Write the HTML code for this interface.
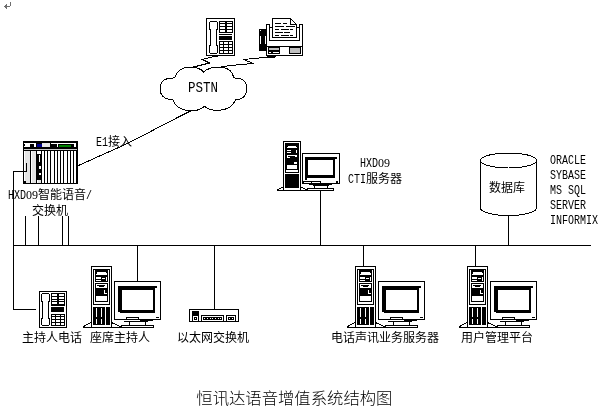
<!DOCTYPE html>
<html lang="zh"><head><meta charset="utf-8"><title>恒讯达语音增值系统结构图</title>
<style>
html,body{margin:0;padding:0;background:#fff;}
svg{display:block;}
.t{font-family:"Liberation Sans","Noto Sans CJK SC",sans-serif;fill:#000;}
.h{font-family:"Liberation Sans","Noto Sans CJK SC",sans-serif;font-weight:300;fill:#000;}
.l{font-family:"Liberation Mono",monospace;fill:#000;white-space:pre;}
.s{font-family:"Liberation Serif",serif;}
rect{shape-rendering:crispEdges;}
path{shape-rendering:crispEdges;}
</style></head><body>
<svg width="601" height="407" viewBox="0 0 601 407">
<rect x="0" y="0" width="601" height="407" fill="#fff"/>
<rect x="10" y="2" width="1" height="4" fill="#6e6e6e"/>
<rect x="4" y="6" width="6" height="1" fill="#6e6e6e"/>
<rect x="5" y="5" width="1" height="3" fill="#6e6e6e"/>
<rect x="6" y="4" width="1" height="5" fill="#6e6e6e"/>
<rect x="13" y="171" width="1" height="139" fill="#000"/>
<rect x="13" y="309" width="23" height="1" fill="#000"/>
<rect x="13" y="245" width="578" height="1" fill="#000"/>
<rect x="25" y="216" width="1" height="30" fill="#000"/>
<rect x="38" y="216" width="1" height="30" fill="#000"/>
<rect x="62" y="216" width="1" height="30" fill="#000"/>
<rect x="68" y="216" width="1" height="30" fill="#000"/>
<rect x="137" y="245" width="1" height="37" fill="#000"/>
<rect x="214" y="245" width="1" height="65" fill="#000"/>
<rect x="320" y="191" width="1" height="55" fill="#000"/>
<rect x="363" y="245" width="1" height="22" fill="#000"/>
<rect x="475" y="245" width="1" height="22" fill="#000"/>
<rect x="508" y="215" width="1" height="31" fill="#000"/>
<path d="M78.5,165.5 L98,156.7 L121,146.5 L141.5,136.3 L163,125 L178,117.3 L191.5,110.5" fill="none" stroke="#000" stroke-width="1"/>
<path d="M218,56.5 H214 L202.5,59.5 L209.5,63 L193.5,67" fill="none" stroke="#000" stroke-width="1"/>
<path d="M275,57.2 L267,57.2 L243.5,59.5 L253.5,63.5 L240,64.6 L221,66.6" fill="none" stroke="#000" stroke-width="1"/>
<path d="M174.5,78.0 Q177.6,67.5 189.6,67.0 Q199.8,67.0 203.4,72.1 Q209.0,67.0 219.1,67.0 Q232.0,67.5 233.8,78.0 Q246.7,77.6 246.7,88.3 Q246.7,99.4 235.7,99.8 Q231.1,110.4 217.3,110.4 Q209.0,110.4 204.4,106.2 Q199.8,110.8 191.5,110.8 Q176.7,110.4 173.0,99.8 Q160.1,99.4 160.1,88.3 Q160.1,77.6 174.5,78.0 Z" fill="#fff" stroke="#000" stroke-width="1"/>
<g transform="translate(206,18)">
<rect x="0" y="0" width="29" height="38" fill="#000"/>
<rect x="1" y="1" width="27" height="36" fill="#fff"/>
<rect x="4" y="3" width="7" height="1" fill="#000"/>
<rect x="3" y="4" width="1" height="7" fill="#000"/>
<rect x="11" y="4" width="1" height="7" fill="#000"/>
<rect x="3" y="11" width="2" height="1" fill="#000"/>
<rect x="10" y="11" width="2" height="1" fill="#000"/>
<rect x="4" y="12" width="1" height="15" fill="#000"/>
<rect x="10" y="12" width="1" height="15" fill="#000"/>
<rect x="3" y="27" width="2" height="1" fill="#000"/>
<rect x="10" y="27" width="2" height="1" fill="#000"/>
<rect x="3" y="28" width="1" height="7" fill="#000"/>
<rect x="11" y="28" width="1" height="7" fill="#000"/>
<rect x="4" y="35" width="7" height="1" fill="#000"/>
<rect x="13" y="3" width="14" height="12" fill="#000"/>
<rect x="14" y="4" width="5" height="1" fill="#fff"/>
<rect x="21" y="4" width="5" height="1" fill="#fff"/>
<rect x="14" y="6" width="5" height="2" fill="#fff"/>
<rect x="21" y="6" width="5" height="2" fill="#fff"/>
<rect x="14" y="9" width="5" height="2" fill="#fff"/>
<rect x="21" y="9" width="5" height="2" fill="#fff"/>
<rect x="14" y="12" width="5" height="2" fill="#fff"/>
<rect x="21" y="12" width="5" height="2" fill="#fff"/>
<rect x="13" y="16" width="13" height="1" fill="#000"/>
<rect x="13" y="18" width="13" height="4" fill="#000"/>
<rect x="13" y="23" width="14" height="13" fill="#000"/>
<rect x="14" y="24" width="3" height="2" fill="#fff"/>
<rect x="18" y="24" width="4" height="2" fill="#fff"/>
<rect x="23" y="24" width="3" height="2" fill="#fff"/>
<rect x="14" y="27" width="3" height="2" fill="#fff"/>
<rect x="18" y="27" width="4" height="2" fill="#fff"/>
<rect x="23" y="27" width="3" height="2" fill="#fff"/>
<rect x="14" y="30" width="3" height="2" fill="#fff"/>
<rect x="18" y="30" width="4" height="2" fill="#fff"/>
<rect x="23" y="30" width="3" height="2" fill="#fff"/>
<rect x="14" y="33" width="3" height="2" fill="#fff"/>
<rect x="18" y="33" width="4" height="2" fill="#fff"/>
<rect x="23" y="33" width="3" height="2" fill="#fff"/>
</g>
<rect x="259" y="29" width="8" height="22" fill="#000"/>
<rect x="260" y="30" width="1" height="1" fill="#fff"/>
<rect x="260" y="36" width="1" height="8" fill="#fff"/>
<rect x="265" y="36" width="1" height="8" fill="#fff"/>
<rect x="266" y="24" width="1" height="32" fill="#000"/>
<rect x="266" y="24" width="4" height="1" fill="#000"/>
<rect x="269" y="24" width="1" height="17" fill="#000"/>
<rect x="302" y="24" width="1" height="32" fill="#000"/>
<rect x="299" y="24" width="4" height="1" fill="#000"/>
<rect x="299" y="24" width="1" height="17" fill="#000"/>
<rect x="269" y="27" width="4" height="1" fill="#000"/>
<rect x="296" y="27" width="4" height="1" fill="#000"/>
<rect x="269" y="40" width="31" height="1" fill="#000"/>
<rect x="272" y="18" width="1" height="20" fill="#000"/>
<rect x="272" y="18" width="19" height="1" fill="#000"/>
<rect x="290" y="18" width="1" height="7" fill="#000"/>
<rect x="290" y="24" width="7" height="1" fill="#000"/>
<rect x="296" y="24" width="1" height="14" fill="#000"/>
<rect x="272" y="37" width="25" height="1" fill="#000"/>
<path d="M290.5,18.5 L296.5,24.5" fill="none" stroke="#000" stroke-width="1"/>
<rect x="275" y="23" width="6" height="1" fill="#000"/>
<rect x="283" y="23" width="4" height="1" fill="#000"/>
<rect x="275" y="26" width="9" height="1" fill="#000"/>
<rect x="286" y="26" width="9" height="1" fill="#000"/>
<rect x="275" y="29" width="4" height="1" fill="#000"/>
<rect x="281" y="29" width="8" height="1" fill="#000"/>
<rect x="290" y="29" width="3" height="1" fill="#000"/>
<rect x="275" y="32" width="8" height="1" fill="#000"/>
<rect x="284" y="32" width="6" height="1" fill="#000"/>
<rect x="275" y="35" width="4" height="1" fill="#000"/>
<rect x="281" y="35" width="8" height="1" fill="#000"/>
<rect x="290" y="35" width="3" height="1" fill="#000"/>
<rect x="266" y="46" width="37" height="1" fill="#000"/>
<rect x="266" y="55" width="37" height="1" fill="#000"/>
<rect x="268" y="47" width="12" height="7" fill="#000"/>
<rect x="269" y="48" width="10" height="2" fill="#c0c0c0"/>
<rect x="269" y="52" width="2" height="1" fill="#fff"/>
<rect x="273" y="52" width="6" height="1" fill="#fff"/>
<rect x="289" y="47" width="12" height="7" fill="#000"/>
<rect x="290" y="48" width="10" height="5" fill="#c0c0c0"/>
<rect x="267" y="56" width="9" height="1" fill="#000"/>
<rect x="23" y="141" width="55" height="43" fill="#000"/>
<rect x="24" y="142" width="53" height="41" fill="#fff"/>
<rect x="23" y="141" width="55" height="8" fill="#000"/>
<rect x="24" y="143" width="12" height="1" fill="#fff"/>
<rect x="25" y="144" width="5" height="3" fill="#fff"/>
<rect x="34" y="144" width="2" height="3" fill="#fff"/>
<rect x="24" y="146" width="1" height="1" fill="#fff"/>
<rect x="37" y="144" width="5" height="3" fill="#00008b"/>
<rect x="42" y="143" width="8" height="4" fill="#e6e6e6"/>
<rect x="51" y="143" width="25" height="1" fill="#fff"/>
<rect x="57" y="143" width="1" height="4" fill="#fff"/>
<rect x="74" y="143" width="2" height="4" fill="#fff"/>
<rect x="59" y="145" width="12" height="2" fill="#008000"/>
<rect x="24" y="149" width="53" height="1" fill="#c8c8c8"/>
<rect x="23" y="150" width="55" height="1" fill="#000"/>
<rect x="25" y="151" width="5" height="32" fill="#e4e4e4"/>
<rect x="30" y="151" width="1" height="32" fill="#000"/>
<rect x="32" y="151" width="4" height="32" fill="#e4e4e4"/>
<rect x="36" y="151" width="1" height="32" fill="#000"/>
<rect x="37" y="151" width="5" height="29" fill="#000"/>
<rect x="37" y="151" width="4" height="3" fill="#fff"/>
<rect x="37" y="154" width="5" height="1" fill="#000"/>
<rect x="39" y="155" width="1" height="7" fill="#fff"/>
<rect x="39" y="166" width="2" height="3" fill="#fff"/>
<rect x="39" y="173" width="2" height="2" fill="#fff"/>
<rect x="38" y="180" width="3" height="3" fill="#e4e4e4"/>
<rect x="41" y="151" width="1" height="32" fill="#000"/>
<rect x="44" y="151" width="1" height="32" fill="#000"/>
<rect x="47" y="151" width="1" height="32" fill="#000"/>
<rect x="50" y="151" width="1" height="32" fill="#000"/>
<rect x="54" y="151" width="1" height="32" fill="#000"/>
<rect x="57" y="151" width="1" height="32" fill="#000"/>
<rect x="60" y="151" width="1" height="32" fill="#000"/>
<rect x="63" y="151" width="1" height="32" fill="#000"/>
<rect x="67" y="151" width="1" height="32" fill="#000"/>
<rect x="70" y="151" width="1" height="32" fill="#000"/>
<rect x="73" y="151" width="1" height="32" fill="#000"/>
<rect x="76" y="151" width="1" height="32" fill="#000"/>
<rect x="24" y="181" width="2" height="2" fill="#000"/>
<rect x="13" y="171" width="14" height="1" fill="#000"/>
<rect x="26" y="163" width="1" height="9" fill="#000"/>
<g transform="translate(39,291)">
<rect x="0" y="0" width="28" height="37" fill="#000"/>
<rect x="1" y="1" width="26" height="35" fill="#fff"/>
<rect x="3" y="2" width="7" height="1" fill="#000"/>
<rect x="2" y="3" width="1" height="7" fill="#000"/>
<rect x="10" y="3" width="1" height="7" fill="#000"/>
<rect x="2" y="10" width="2" height="1" fill="#000"/>
<rect x="9" y="10" width="2" height="1" fill="#000"/>
<rect x="3" y="11" width="1" height="16" fill="#000"/>
<rect x="9" y="11" width="1" height="16" fill="#000"/>
<rect x="2" y="27" width="2" height="1" fill="#000"/>
<rect x="9" y="27" width="2" height="1" fill="#000"/>
<rect x="2" y="28" width="1" height="6" fill="#000"/>
<rect x="10" y="28" width="1" height="6" fill="#000"/>
<rect x="3" y="34" width="7" height="1" fill="#000"/>
<rect x="12" y="2" width="14" height="13" fill="#000"/>
<rect x="13" y="3" width="5" height="2" fill="#fff"/>
<rect x="20" y="3" width="5" height="2" fill="#fff"/>
<rect x="13" y="6" width="5" height="2" fill="#fff"/>
<rect x="20" y="6" width="5" height="2" fill="#fff"/>
<rect x="13" y="9" width="5" height="1" fill="#fff"/>
<rect x="20" y="9" width="5" height="1" fill="#fff"/>
<rect x="13" y="11" width="5" height="2" fill="#fff"/>
<rect x="20" y="11" width="5" height="2" fill="#fff"/>
<rect x="12" y="16" width="13" height="5" fill="#000"/>
<rect x="12" y="23" width="14" height="12" fill="#000"/>
<rect x="13" y="24" width="3" height="1" fill="#fff"/>
<rect x="17" y="24" width="4" height="1" fill="#fff"/>
<rect x="22" y="24" width="3" height="1" fill="#fff"/>
<rect x="13" y="26" width="3" height="2" fill="#fff"/>
<rect x="17" y="26" width="4" height="2" fill="#fff"/>
<rect x="22" y="26" width="3" height="2" fill="#fff"/>
<rect x="13" y="29" width="3" height="2" fill="#fff"/>
<rect x="17" y="29" width="4" height="2" fill="#fff"/>
<rect x="22" y="29" width="3" height="2" fill="#fff"/>
<rect x="13" y="32" width="3" height="2" fill="#fff"/>
<rect x="17" y="32" width="4" height="2" fill="#fff"/>
<rect x="22" y="32" width="3" height="2" fill="#fff"/>
</g>
<g transform="translate(0,0)">
<rect x="83" y="327" width="71" height="1" fill="#000"/>
<path d="M83.5,326.5 L91,322.5 M111.5,322.5 L121,327" fill="none" stroke="#000" stroke-width="1"/>
<rect x="83" y="326" width="2" height="1" fill="#000"/>
<rect x="91" y="266" width="21" height="62" fill="#000"/>
<rect x="92" y="267" width="19" height="60" fill="#fff"/>
<rect x="93" y="269" width="17" height="36" fill="#000"/>
<rect x="94" y="270" width="15" height="34" fill="#fff"/>
<rect x="95" y="269" width="13" height="13" fill="#000"/>
<rect x="97" y="272" width="9" height="1" fill="#fff"/>
<rect x="97" y="273" width="10" height="1" fill="#fff"/>
<rect x="96" y="274" width="11" height="1" fill="#fff"/>
<rect x="96" y="277" width="5" height="2" fill="#fff"/>
<rect x="102" y="278" width="3" height="1" fill="#fff"/>
<rect x="106" y="277" width="1" height="4" fill="#fff"/>
<rect x="96" y="280" width="5" height="1" fill="#fff"/>
<rect x="95" y="283" width="13" height="19" fill="#000"/>
<rect x="96" y="284" width="11" height="17" fill="#fff"/>
<rect x="97" y="285" width="8" height="1" fill="#000"/>
<rect x="99" y="286" width="5" height="1" fill="#000"/>
<rect x="96" y="288" width="11" height="8" fill="#000"/>
<rect x="104" y="290" width="1" height="4" fill="#fff"/>
<rect x="104" y="293" width="3" height="1" fill="#fff"/>
<rect x="93" y="307" width="17" height="18" fill="#000"/>
<rect x="96" y="308" width="1" height="9" fill="#fff"/>
<rect x="96" y="319" width="1" height="5" fill="#fff"/>
<rect x="101" y="308" width="1" height="9" fill="#fff"/>
<rect x="101" y="319" width="1" height="5" fill="#fff"/>
<rect x="105" y="307" width="1" height="18" fill="#fff"/>
<rect x="114" y="281" width="47" height="39" fill="#000"/>
<rect x="115" y="282" width="45" height="37" fill="#fff"/>
<rect x="118" y="286" width="37" height="4" fill="#000"/>
<rect x="155" y="286" width="2" height="2" fill="#000"/>
<rect x="118" y="286" width="4" height="27" fill="#000"/>
<rect x="118" y="310" width="37" height="3" fill="#000"/>
<rect x="153" y="286" width="2" height="27" fill="#000"/>
<rect x="118" y="312" width="2" height="1" fill="#fff"/>
<rect x="156" y="317" width="3" height="1" fill="#000"/>
<rect x="126" y="317" width="13" height="3" fill="#000"/>
<rect x="127" y="318" width="11" height="1" fill="#fff"/>
<rect x="140" y="320" width="13" height="1" fill="#000"/>
<rect x="124" y="321" width="24" height="1" fill="#000"/>
<rect x="129" y="322" width="1" height="4" fill="#000"/>
<rect x="145" y="322" width="1" height="4" fill="#000"/>
<rect x="121" y="325" width="33" height="3" fill="#000"/>
<rect x="122" y="326" width="31" height="1" fill="#fff"/>
</g>
<g transform="translate(264,0)">
<rect x="83" y="327" width="71" height="1" fill="#000"/>
<path d="M83.5,326.5 L91,322.5 M111.5,322.5 L121,327" fill="none" stroke="#000" stroke-width="1"/>
<rect x="83" y="326" width="2" height="1" fill="#000"/>
<rect x="91" y="266" width="21" height="62" fill="#000"/>
<rect x="92" y="267" width="19" height="60" fill="#fff"/>
<rect x="93" y="269" width="17" height="36" fill="#000"/>
<rect x="94" y="270" width="15" height="34" fill="#fff"/>
<rect x="95" y="269" width="13" height="13" fill="#000"/>
<rect x="97" y="272" width="9" height="1" fill="#fff"/>
<rect x="97" y="273" width="10" height="1" fill="#fff"/>
<rect x="96" y="274" width="11" height="1" fill="#fff"/>
<rect x="96" y="277" width="5" height="2" fill="#fff"/>
<rect x="102" y="278" width="3" height="1" fill="#fff"/>
<rect x="106" y="277" width="1" height="4" fill="#fff"/>
<rect x="96" y="280" width="5" height="1" fill="#fff"/>
<rect x="95" y="283" width="13" height="19" fill="#000"/>
<rect x="96" y="284" width="11" height="17" fill="#fff"/>
<rect x="97" y="285" width="8" height="1" fill="#000"/>
<rect x="99" y="286" width="5" height="1" fill="#000"/>
<rect x="96" y="288" width="11" height="8" fill="#000"/>
<rect x="104" y="290" width="1" height="4" fill="#fff"/>
<rect x="104" y="293" width="3" height="1" fill="#fff"/>
<rect x="93" y="307" width="17" height="18" fill="#000"/>
<rect x="96" y="308" width="1" height="9" fill="#fff"/>
<rect x="96" y="319" width="1" height="5" fill="#fff"/>
<rect x="101" y="308" width="1" height="9" fill="#fff"/>
<rect x="101" y="319" width="1" height="5" fill="#fff"/>
<rect x="105" y="307" width="1" height="18" fill="#fff"/>
<rect x="114" y="281" width="47" height="39" fill="#000"/>
<rect x="115" y="282" width="45" height="37" fill="#fff"/>
<rect x="118" y="286" width="37" height="4" fill="#000"/>
<rect x="155" y="286" width="2" height="2" fill="#000"/>
<rect x="118" y="286" width="4" height="27" fill="#000"/>
<rect x="118" y="310" width="37" height="3" fill="#000"/>
<rect x="153" y="286" width="2" height="27" fill="#000"/>
<rect x="118" y="312" width="2" height="1" fill="#fff"/>
<rect x="156" y="317" width="3" height="1" fill="#000"/>
<rect x="126" y="317" width="13" height="3" fill="#000"/>
<rect x="127" y="318" width="11" height="1" fill="#fff"/>
<rect x="140" y="320" width="13" height="1" fill="#000"/>
<rect x="124" y="321" width="24" height="1" fill="#000"/>
<rect x="129" y="322" width="1" height="4" fill="#000"/>
<rect x="145" y="322" width="1" height="4" fill="#000"/>
<rect x="121" y="325" width="33" height="3" fill="#000"/>
<rect x="122" y="326" width="31" height="1" fill="#fff"/>
</g>
<g transform="translate(376,0)">
<rect x="83" y="327" width="71" height="1" fill="#000"/>
<path d="M83.5,326.5 L91,322.5 M111.5,322.5 L121,327" fill="none" stroke="#000" stroke-width="1"/>
<rect x="83" y="326" width="2" height="1" fill="#000"/>
<rect x="91" y="266" width="21" height="62" fill="#000"/>
<rect x="92" y="267" width="19" height="60" fill="#fff"/>
<rect x="93" y="269" width="17" height="36" fill="#000"/>
<rect x="94" y="270" width="15" height="34" fill="#fff"/>
<rect x="95" y="269" width="13" height="13" fill="#000"/>
<rect x="97" y="272" width="9" height="1" fill="#fff"/>
<rect x="97" y="273" width="10" height="1" fill="#fff"/>
<rect x="96" y="274" width="11" height="1" fill="#fff"/>
<rect x="96" y="277" width="5" height="2" fill="#fff"/>
<rect x="102" y="278" width="3" height="1" fill="#fff"/>
<rect x="106" y="277" width="1" height="4" fill="#fff"/>
<rect x="96" y="280" width="5" height="1" fill="#fff"/>
<rect x="95" y="283" width="13" height="19" fill="#000"/>
<rect x="96" y="284" width="11" height="17" fill="#fff"/>
<rect x="97" y="285" width="8" height="1" fill="#000"/>
<rect x="99" y="286" width="5" height="1" fill="#000"/>
<rect x="96" y="288" width="11" height="8" fill="#000"/>
<rect x="104" y="290" width="1" height="4" fill="#fff"/>
<rect x="104" y="293" width="3" height="1" fill="#fff"/>
<rect x="93" y="307" width="17" height="18" fill="#000"/>
<rect x="96" y="308" width="1" height="9" fill="#fff"/>
<rect x="96" y="319" width="1" height="5" fill="#fff"/>
<rect x="101" y="308" width="1" height="9" fill="#fff"/>
<rect x="101" y="319" width="1" height="5" fill="#fff"/>
<rect x="105" y="307" width="1" height="18" fill="#fff"/>
<rect x="114" y="281" width="47" height="39" fill="#000"/>
<rect x="115" y="282" width="45" height="37" fill="#fff"/>
<rect x="118" y="286" width="37" height="4" fill="#000"/>
<rect x="155" y="286" width="2" height="2" fill="#000"/>
<rect x="118" y="286" width="4" height="27" fill="#000"/>
<rect x="118" y="310" width="37" height="3" fill="#000"/>
<rect x="153" y="286" width="2" height="27" fill="#000"/>
<rect x="118" y="312" width="2" height="1" fill="#fff"/>
<rect x="156" y="317" width="3" height="1" fill="#000"/>
<rect x="126" y="317" width="13" height="3" fill="#000"/>
<rect x="127" y="318" width="11" height="1" fill="#fff"/>
<rect x="140" y="320" width="13" height="1" fill="#000"/>
<rect x="124" y="321" width="24" height="1" fill="#000"/>
<rect x="129" y="322" width="1" height="4" fill="#000"/>
<rect x="145" y="322" width="1" height="4" fill="#000"/>
<rect x="121" y="325" width="33" height="3" fill="#000"/>
<rect x="122" y="326" width="31" height="1" fill="#fff"/>
</g>
<rect x="277" y="190" width="57" height="1" fill="#000"/>
<rect x="277" y="189" width="2" height="1" fill="#000"/>
<rect x="279" y="188" width="2" height="1" fill="#000"/>
<rect x="281" y="187" width="2" height="1" fill="#000"/>
<rect x="301" y="187" width="2" height="1" fill="#000"/>
<rect x="303" y="188" width="2" height="1" fill="#000"/>
<rect x="305" y="189" width="2" height="1" fill="#000"/>
<rect x="283" y="141" width="18" height="50" fill="#000"/>
<rect x="284" y="142" width="16" height="48" fill="#fff"/>
<rect x="285" y="143" width="14" height="29" fill="#000"/>
<rect x="288" y="146" width="8" height="1" fill="#fff"/>
<rect x="287" y="147" width="10" height="1" fill="#fff"/>
<rect x="287" y="150" width="4" height="1" fill="#fff"/>
<rect x="287" y="152" width="4" height="1" fill="#fff"/>
<rect x="296" y="150" width="1" height="3" fill="#fff"/>
<rect x="287" y="155" width="10" height="1" fill="#fff"/>
<rect x="287" y="155" width="1" height="3" fill="#fff"/>
<rect x="287" y="157" width="3" height="1" fill="#fff"/>
<rect x="295" y="155" width="2" height="2" fill="#fff"/>
<rect x="294" y="162" width="3" height="2" fill="#fff"/>
<rect x="287" y="165" width="10" height="4" fill="#fff"/>
<rect x="286" y="170" width="12" height="2" fill="#fff"/>
<rect x="285" y="172" width="14" height="1" fill="#000"/>
<rect x="285" y="174" width="14" height="14" fill="#000"/>
<rect x="302" y="153" width="38" height="31" fill="#000"/>
<rect x="303" y="154" width="36" height="29" fill="#fff"/>
<rect x="305" y="157" width="30" height="3" fill="#000"/>
<rect x="335" y="157" width="2" height="2" fill="#000"/>
<rect x="305" y="157" width="3" height="21" fill="#000"/>
<rect x="305" y="175" width="30" height="3" fill="#000"/>
<rect x="333" y="157" width="2" height="21" fill="#000"/>
<rect x="305" y="178" width="2" height="2" fill="#000"/>
<rect x="336" y="181" width="2" height="2" fill="#000"/>
<rect x="303" y="181" width="9" height="3" fill="#000"/>
<rect x="304" y="182" width="7" height="1" fill="#fff"/>
<rect x="311" y="181" width="10" height="3" fill="#000"/>
<rect x="312" y="182" width="8" height="1" fill="#fff"/>
<rect x="309" y="183" width="23" height="2" fill="#000"/>
<rect x="313" y="185" width="16" height="1" fill="#000"/>
<rect x="314" y="185" width="1" height="4" fill="#000"/>
<rect x="327" y="185" width="1" height="4" fill="#000"/>
<rect x="307" y="188" width="27" height="3" fill="#000"/>
<rect x="308" y="189" width="25" height="1" fill="#fff"/>
<g transform="translate(189,309)">
<rect x="0" y="0" width="50" height="13" fill="#000"/>
<rect x="1" y="1" width="48" height="11" fill="#fff"/>
<rect x="3" y="2" width="7" height="5" fill="#000"/>
<rect x="3" y="7" width="1" height="5" fill="#000"/>
<rect x="9" y="7" width="1" height="5" fill="#000"/>
<rect x="5" y="8" width="3" height="3" fill="#000"/>
<rect x="6" y="9" width="1" height="1" fill="#fff"/>
<rect x="12" y="6" width="23" height="7" fill="#000"/>
<rect x="13" y="7" width="21" height="5" fill="#fff"/>
<rect x="14" y="8" width="19" height="3" fill="#000"/>
<rect x="15.3" y="9" width="0.9000000000000004" height="1" fill="#fff"/>
<rect x="17.98" y="9" width="0.8999999999999986" height="1" fill="#fff"/>
<rect x="20.66" y="9" width="0.8999999999999986" height="1" fill="#fff"/>
<rect x="23.340000000000003" y="9" width="0.8999999999999986" height="1" fill="#fff"/>
<rect x="26.020000000000003" y="9" width="0.8999999999999986" height="1" fill="#fff"/>
<rect x="28.700000000000003" y="9" width="0.8999999999999986" height="1" fill="#fff"/>
<rect x="31.380000000000003" y="9" width="0.8999999999999986" height="1" fill="#fff"/>
<rect x="37" y="6" width="10" height="7" fill="#000"/>
<rect x="38" y="7" width="8" height="5" fill="#fff"/>
<rect x="39" y="8" width="6" height="3" fill="#000"/>
<rect x="40" y="9" width="1" height="1" fill="#fff"/>
<rect x="43" y="9" width="1" height="1" fill="#fff"/>
</g>
<path d="M480.5,160.5 V208 A28,7.5 0 0 0 536.5,208 V160.5" fill="#fff" stroke="#000" stroke-width="1"/>
<ellipse cx="508.5" cy="160.5" rx="28" ry="7.5" fill="#fff" stroke="#000" stroke-width="1" shape-rendering="crispEdges"/>
<g style="filter:grayscale(1)">
<text x="188" y="91.6" font-size="13.75" class="l" textLength="30" lengthAdjust="spacingAndGlyphs">PSTN</text>
<text x="96" y="145.5" font-size="12"><tspan class="l" textLength="12" lengthAdjust="spacingAndGlyphs">E1</tspan><tspan class="t">接入</tspan></text>
<text x="8" y="199" font-size="12"><tspan class="l" textLength="18" lengthAdjust="spacingAndGlyphs">HXD</tspan><tspan class="s">09</tspan><tspan class="t">智能语音</tspan><tspan class="l" textLength="6" lengthAdjust="spacingAndGlyphs">/</tspan></text>
<text x="32" y="215" font-size="12" class="t">交换机</text>
<text x="360" y="167" font-size="12"><tspan class="l" textLength="18" lengthAdjust="spacingAndGlyphs">HXD</tspan><tspan class="s">09</tspan></text>
<text x="348" y="183" font-size="12"><tspan class="l" textLength="18" lengthAdjust="spacingAndGlyphs">CTI</tspan><tspan class="t">服务器</tspan></text>
<text x="489" y="192" font-size="12" class="t">数据库</text>
<text x="550" y="164.4" font-size="12"><tspan class="l" textLength="36" lengthAdjust="spacingAndGlyphs">ORACLE</tspan></text>
<text x="550" y="179.4" font-size="12"><tspan class="l" textLength="36" lengthAdjust="spacingAndGlyphs">SYBASE</tspan></text>
<text x="550" y="194.4" font-size="12"><tspan class="l" textLength="36" lengthAdjust="spacingAndGlyphs">MS SQL</tspan></text>
<text x="550" y="209.4" font-size="12"><tspan class="l" textLength="36" lengthAdjust="spacingAndGlyphs">SERVER</tspan></text>
<text x="550" y="224.4" font-size="12"><tspan class="l" textLength="48" lengthAdjust="spacingAndGlyphs">INFORMIX</tspan></text>
<text x="22" y="341.5" font-size="12" class="t">主持人电话</text>
<text x="90" y="341.5" font-size="12" class="t">座席主持人</text>
<text x="177" y="341.5" font-size="12" class="t">以太网交换机</text>
<text x="331" y="341.5" font-size="12" class="t">电话声讯业务服务器</text>
<text x="461" y="341.5" font-size="12" class="t">用户管理平台</text>
<text x="196.3" y="404" font-size="16.35" class="h">恒讯达语音增值系统结构图</text>
</g>
</svg>
</body></html>
